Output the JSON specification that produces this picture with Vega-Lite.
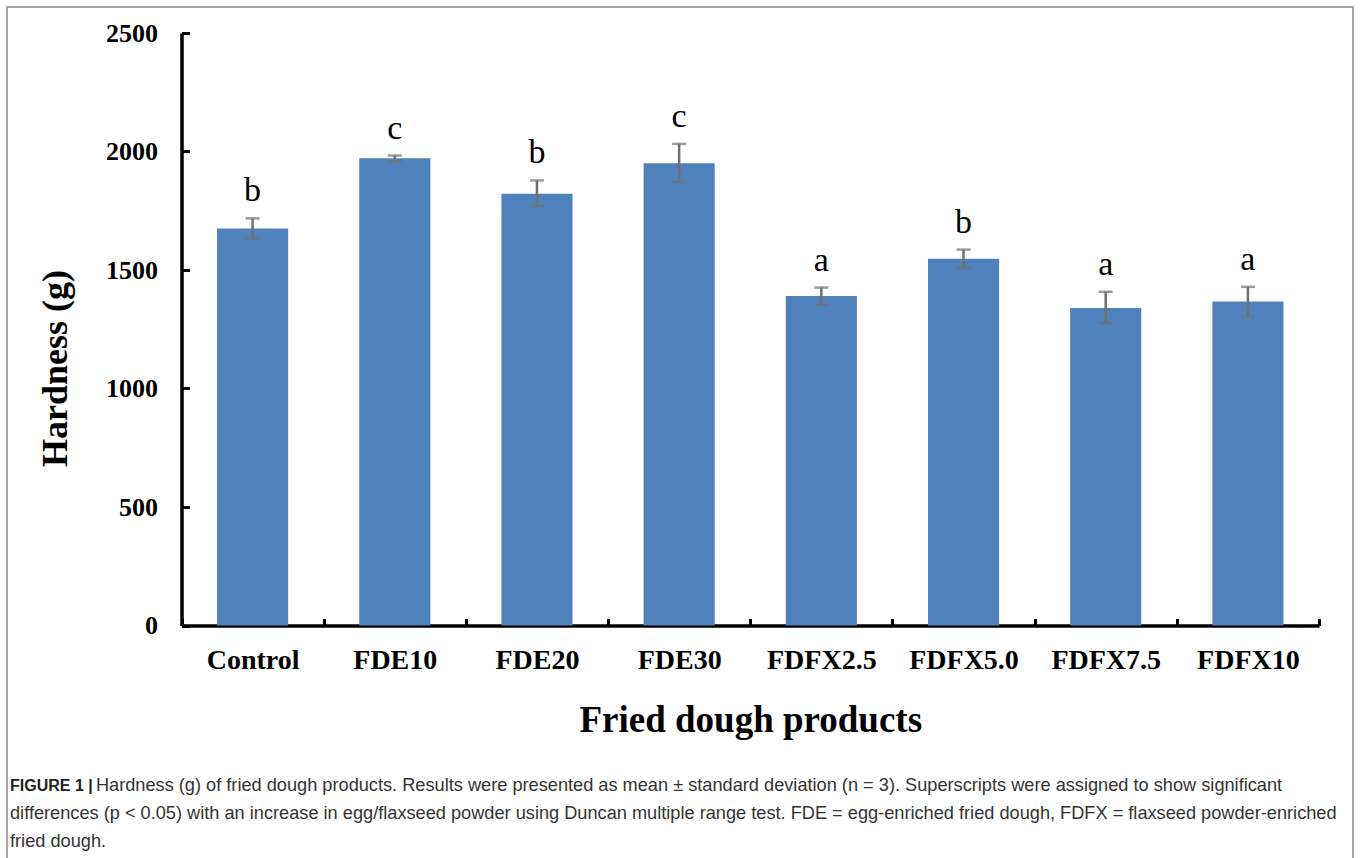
{
  "$schema": "https://vega.github.io/schema/vega-lite/v6.json",
  "width": 1346,
  "height": 900,
  "autosize": {"type": "none"},
  "padding": {"left": 7, "top": 7, "right": 7, "bottom": 0},
  "background": "white",
  "config": {
    "view": {"stroke": "#8a8a8a", "strokeWidth": 1.5},
    "axis": {"titleFont": "Liberation Serif", "labelFont": "Liberation Serif", "titleFontWeight": "bold", "labelFontWeight": "bold", "titleColor": "black", "labelColor": "black"}
  },
  "title": {
    "text": "FIGURE 1 |",
    "subtitle": [
      "\u200b\u00a0\u00a0\u00a0\u00a0\u00a0\u00a0\u00a0\u00a0\u00a0\u00a0\u00a0\u00a0\u00a0\u00a0\u00a0\u00a0\u00a0Hardness (g) of fried dough products. Results were presented as mean ± standard deviation (n = 3). Superscripts were assigned to show significant",
      "differences (p < 0.05) with an increase in egg/flaxseed powder using Duncan multiple range test. FDE = egg-enriched fried dough, FDFX = flaxseed powder-enriched",
      "fried dough."
    ],
    "orient": "bottom",
    "anchor": "start",
    "frame": "group",
    "offset": -129,
    "dx": 3,
    "font": "Liberation Sans",
    "fontSize": 16,
    "fontWeight": "bold",
    "color": "#222222",
    "subtitleFont": "Liberation Sans",
    "subtitleFontSize": 18.2,
    "subtitleFontWeight": "normal",
    "subtitleColor": "#333333",
    "subtitleLineHeight": 28,
    "subtitlePadding": -17
  },
  "data": {
    "values": [
      {"product": "Control", "hardness": 1675, "lo": 1632, "hi": 1718, "letter": "b"},
      {"product": "FDE10", "hardness": 1971, "lo": 1958, "hi": 1983, "letter": "c"},
      {"product": "FDE20", "hardness": 1822, "lo": 1769, "hi": 1878, "letter": "b"},
      {"product": "FDE30", "hardness": 1950, "lo": 1870, "hi": 2032, "letter": "c"},
      {"product": "FDFX2.5", "hardness": 1390, "lo": 1354, "hi": 1426, "letter": "a"},
      {"product": "FDFX5.0", "hardness": 1547, "lo": 1509, "hi": 1586, "letter": "b"},
      {"product": "FDFX7.5", "hardness": 1340, "lo": 1276, "hi": 1408, "letter": "a"},
      {"product": "FDFX10", "hardness": 1367, "lo": 1304, "hi": 1429, "letter": "a"}
    ]
  },
  "encoding": {
    "x": {
      "field": "product",
      "type": "nominal",
      "sort": null,
      "scale": {"type": "band", "range": [174.5, 1312], "paddingInner": 0, "paddingOuter": 0},
      "axis": {
        "title": "Fried dough products",
        "offset": -281.5,
        "tickBand": "extent",
        "domainColor": "black",
        "domainWidth": 3.5,
        "tickColor": "black",
        "tickWidth": 3,
        "tickSize": -7,
        "labelAngle": 0,
        "labelFont": "Liberation Serif",
        "labelFontSize": 28,
        "labelFontWeight": "bold",
        "labelColor": "black",
        "labelBaseline": "top",
        "labelPadding": 28,
        "titleFont": "Liberation Serif",
        "titleFontSize": 37,
        "titleFontWeight": "bold",
        "titleColor": "black",
        "titlePadding": 28
      }
    }
  },
  "layer": [
    {
      "mark": {"type": "bar", "color": "#4f81bd", "width": {"band": 0.5}},
      "encoding": {
        "y": {
          "field": "hardness",
          "type": "quantitative",
          "scale": {"domain": [0, 2500], "range": [618.5, 26], "nice": false, "zero": true},
          "axis": {
            "title": "Hardness (g)",
            "values": [0, 500, 1000, 1500, 2000, 2500],
            "format": "d",
            "offset": -174.5,
            "grid": false,
            "domainColor": "black",
            "domainWidth": 3.5,
            "tickColor": "black",
            "tickWidth": 3,
            "tickSize": -8,
            "labelFont": "Liberation Serif",
            "labelFontSize": 26,
            "labelFontWeight": "bold",
            "labelColor": "black",
            "labelPadding": 32,
            "titleFont": "Liberation Serif",
            "titleFontSize": 36,
            "titleFontWeight": "bold",
            "titleColor": "black",
            "titleAngle": -90,
            "titleAlign": "center",
            "titleBaseline": "middle",
            "titleX": -126,
            "titleY": 361
          }
        }
      }
    },
    {
      "mark": {"type": "rule", "color": "#707070", "strokeWidth": 2.5},
      "encoding": {
        "y": {"field": "lo", "type": "quantitative"},
        "y2": {"field": "hi"}
      }
    },
    {
      "mark": {"type": "tick", "color": "#707070", "thickness": 2.5, "size": 14, "orient": "horizontal"},
      "encoding": {"y": {"field": "lo", "type": "quantitative"}}
    },
    {
      "mark": {"type": "tick", "color": "#707070", "thickness": 2.5, "size": 14, "orient": "horizontal"},
      "encoding": {"y": {"field": "hi", "type": "quantitative"}}
    },
    {
      "mark": {"type": "text", "font": "Liberation Serif", "fontSize": 34, "baseline": "alphabetic", "dy": -17, "color": "black"},
      "encoding": {
        "y": {"field": "hi", "type": "quantitative"},
        "text": {"field": "letter"}
      }
    }
  ]
}
